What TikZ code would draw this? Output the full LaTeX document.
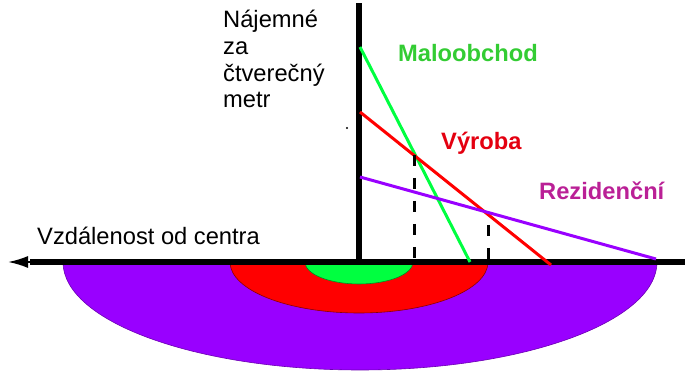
\documentclass[tikz,border=0pt]{standalone}
\usepackage{fontspec}
\setmainfont{Liberation Sans}
\usetikzlibrary{arrows.meta}
\definecolor{lgreen}{RGB}{0,255,64}
\definecolor{lred}{RGB}{255,0,0}
\definecolor{lpurple}{RGB}{153,0,255}
\definecolor{tgreen}{RGB}{51,204,51}
\definecolor{tred}{RGB}{228,0,16}
\definecolor{tpurple}{RGB}{186,32,150}
\begin{document}
\begin{tikzpicture}[x=1pt,y=1pt,
  lbl/.style={inner sep=0pt,anchor=base west,font=\fontsize{23.7}{27}\selectfont},
  blbl/.style={lbl,font=\fontsize{23.7}{27}\selectfont\bfseries},
  axis/.style={line width=6pt,black},
  curve/.style={line width=3pt},
  guide/.style={line width=3pt,black,dash pattern=on 11.5pt off 11.5pt},
  zone/.style={line width=0.6pt}]
\useasboundingbox (0,0) rectangle (692,382);
% zones
\filldraw[zone,fill=lpurple,draw=lpurple!70!black] (63,120) arc[start angle=180,end angle=360,x radius=297pt,y radius=108pt] -- cycle;
\filldraw[zone,fill=lred,draw=lred!55!black] (230,120) arc[start angle=180,end angle=360,x radius=129pt,y radius=51pt] -- cycle;
\filldraw[zone,fill=lgreen,draw=lgreen!55!black] (305,120) arc[start angle=180,end angle=360,x radius=54pt,y radius=22pt] -- cycle;
% axes
\coordinate (o) at (359,120);
\coordinate (ytop) at (359,379);
\coordinate (xright) at (685,120);
\coordinate (xleft) at (30,120);
\coordinate (xtip) at (8,120);
\draw[axis] (xleft) -- (xright);
\draw[axis] (o) -- (ytop);
\draw[line width=2pt,-{Latex[length=20pt,width=12pt]}] (xleft) -- (xtip);
% curves
\coordinate (g1) at (360,335);
\coordinate (g2) at (470,120);
\coordinate (r1) at (360,270);
\coordinate (r2) at (551,117);
\coordinate (p1) at (360,205);
\coordinate (p2) at (656,123);
\draw[curve,lgreen] (g1) -- (g2);
\draw[curve,lred] (r1) -- (r2);
\draw[curve,lpurple] (p1) -- (p2);
% guides
\coordinate (i1) at (414,227);
\coordinate (i1b) at (414,120);
\coordinate (i2) at (488,157);
\coordinate (i2b) at (488,120);
\draw[guide] (i1) -- (i1b);
\draw[guide] (i2) -- (i2b);
% dot
\fill (347,254) circle[radius=1.1pt];
% labels
\node[lbl] (ylab1) at (223,354) {Nájemné};
\node[lbl] (ylab2) at (223,327) {za};
\node[lbl] (ylab3) at (223,300) {čtverečný};
\node[lbl] (ylab4) at (223,274) {metr};
\node[blbl,tgreen] (mal) at (398,320) {Maloobchod};
\node[blbl,tred] (vyr) at (441,232) {Výroba};
\node[blbl,tpurple] (rez) at (539,182) {Rezidenční};
\node[lbl] (xlab) at (37,137) {Vzdálenost od centra};
\end{tikzpicture}
\end{document}
